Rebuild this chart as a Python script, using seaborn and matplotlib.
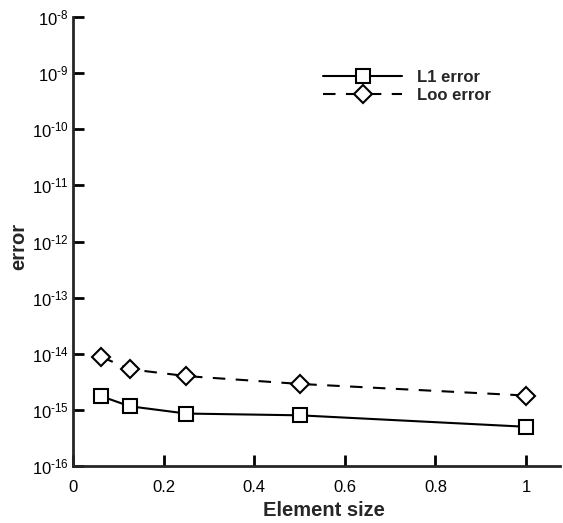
import matplotlib
matplotlib.use("Agg")
import matplotlib.pyplot as plt
import matplotlib.ticker as mticker
import numpy as np
import pandas as pd
import seaborn as sns

element_size = [0.0625, 0.125, 0.25, 0.5, 1.0]
l1_error = [1.75e-15, 1.16e-15, 8.6e-16, 8.0e-16, 5.0e-16]
loo_error = [8.8e-15, 5.3e-15, 4.0e-15, 2.9e-15, 1.8e-15]
y_exponents = [-16, -15, -14, -13, -12, -11, -10, -9, -8]
x_ticks = [0, 0.2, 0.4, 0.6, 0.8, 1.0]
x_tick_labels = ["0", "0.2", "0.4", "0.6", "0.8", "1"]

sns.set_theme(style="ticks")
plt.rcParams['font.family'] = ['Liberation Sans', 'DejaVu Sans']
plt.rcParams['mathtext.fontset'] = 'custom'
plt.rcParams['mathtext.rm'] = 'Liberation Sans'
plt.rcParams['mathtext.it'] = 'Liberation Sans:italic'
plt.rcParams['mathtext.bf'] = 'Liberation Sans:bold'
plt.rcParams['axes.unicode_minus'] = False

fig = plt.figure(figsize=(5.63, 5.23), dpi=100)
ax = fig.add_axes([73/563, 1-466/523, (560-73)/563, (466-17)/523])

df1 = pd.DataFrame({"x": element_size, "y": l1_error})
df2 = pd.DataFrame({"x": element_size, "y": loo_error})

sns.lineplot(data=df1, x="x", y="y", ax=ax, color="black", lw=1.5,
             marker="s", markersize=10, markerfacecolor="white",
             markeredgecolor="black", markeredgewidth=1.5, label="L1 error")
sns.lineplot(data=df2, x="x", y="y", ax=ax, color="black", lw=1.5,
             linestyle=(0, (6, 5)), marker="D", markersize=9.5,
             markerfacecolor="white", markeredgecolor="black",
             markeredgewidth=1.5, label="Loo error")

ax.set_yscale("log")
ax.set_ylim(1e-16, 1e-8)
ax.set_xlim(0, 1.075)
ax.set_yticks([10.0 ** e for e in y_exponents])
ax.set_yticklabels([r"$\mathdefault{10^{\text{-}%d}}$" % (-e) for e in y_exponents])
ax.yaxis.set_minor_locator(mticker.NullLocator())
ax.set_xticks(x_ticks)
ax.set_xticklabels(x_tick_labels)

for s in ["top", "right"]:
    ax.spines[s].set_visible(False)
for s in ["left", "bottom"]:
    ax.spines[s].set_linewidth(2)
ax.tick_params(direction="in", length=8, width=2, labelsize=12, colors="black")
ax.tick_params(axis="y", pad=3)
ax.tick_params(axis="x", pad=10)

ax.set_xlabel("Element size", fontsize=14.5, fontweight="bold")
ax.set_ylabel("error", fontsize=14.5, fontweight="bold")
ax.xaxis.set_label_coords((324-73)/487, (466-501)/449)
ax.yaxis.set_label_coords((28-73)/487, 0.49)

leg = ax.legend(loc="upper left", bbox_to_anchor=((323-73)/487, (466-70)/449),
                frameon=False, handlelength=4.75, handletextpad=0.9,
                borderpad=0, borderaxespad=0, labelspacing=0.2,
                prop={"weight": "bold", "size": 12})

fig.savefig("out.png", dpi=100)
